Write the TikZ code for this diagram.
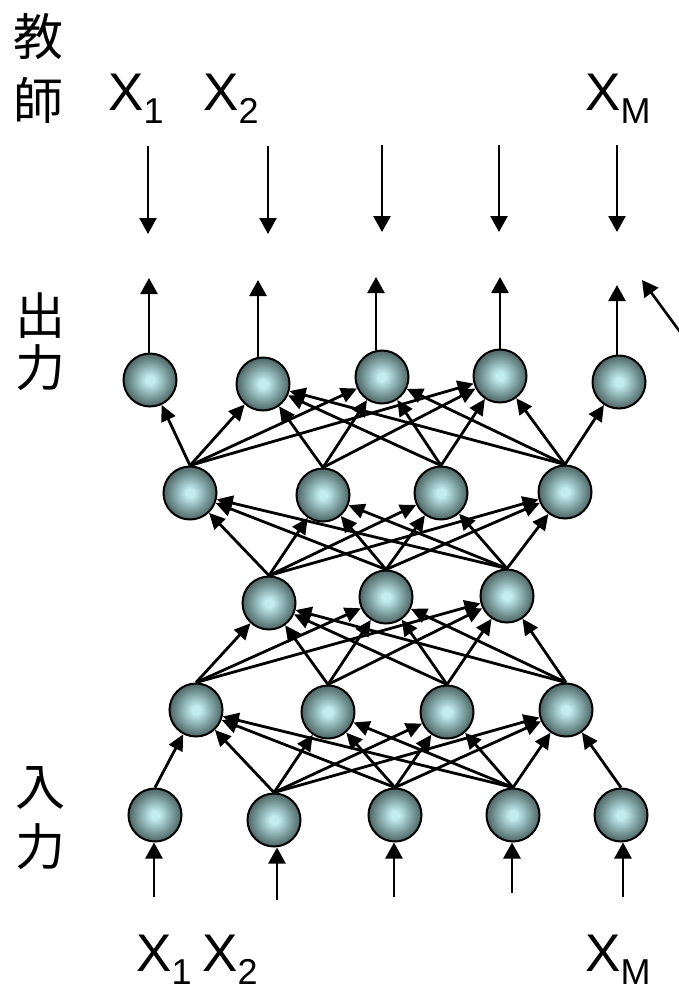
\documentclass[tikz,border=0pt]{standalone}
\usepackage{fontspec}
\setmainfont{Liberation Sans}
\newfontfamily\jpfont{Noto Sans CJK JP}
\usetikzlibrary{arrows.meta}
\definecolor{nin}{RGB}{194,236,238}
\definecolor{nmid}{RGB}{136,172,173}
\definecolor{nout}{RGB}{78,100,100}
\pgfdeclareradialshading{ballshade}{\pgfpoint{0bp}{0bp}}{color(0bp)=(nin); color(4bp)=(nin); color(14bp)=(nmid); color(25bp)=(nout); color(50bp)=(nout)}
\newcommand\Xsub[1]{X\raisebox{-13pt}{\fontsize{36}{40}\selectfont #1}}
\begin{document}
\begin{tikzpicture}[x=1pt,y=-1pt,
  neuron/.style={circle,draw=black,line width=2pt,minimum size=53pt,inner sep=0pt,shading=ballshade},
  conn/.style={line width=2.8pt,-{Triangle[length=16pt,width=15pt]}},
  io/.style={line width=2.6pt,-{Triangle[length=16pt,width=17pt]}},
  lbl/.style={inner sep=0pt,anchor=base west,font=\fontsize{53}{60}\selectfont},
  cjk/.style={inner sep=0pt,font=\jpfont\fontsize{50}{56}\selectfont}]
\useasboundingbox (0,0) rectangle (679,991);
\fill[white] (0,0) rectangle (679,991);

% nodes
\node[neuron] (o1) at (150,380) {};
\node[neuron] (o2) at (263,384) {};
\node[neuron] (o3) at (382,377) {};
\node[neuron] (o4) at (500,376) {};
\node[neuron] (o5) at (619,382) {};

\node[neuron] (ha) at (190,493) {};
\node[neuron] (hb) at (323,495) {};
\node[neuron] (hc) at (441,493) {};
\node[neuron] (hd) at (565,492) {};

\node[neuron] (ma) at (269,603) {};
\node[neuron] (mb) at (386,597) {};
\node[neuron] (mc) at (507,596) {};

\node[neuron] (ga) at (196,710) {};
\node[neuron] (gb) at (328,712) {};
\node[neuron] (gc) at (447,712) {};
\node[neuron] (gd) at (566,710) {};

\node[neuron] (i1) at (155,815) {};
\node[neuron] (i2) at (274,820) {};
\node[neuron] (i3) at (395,815) {};
\node[neuron] (i4) at (513,815) {};
\node[neuron] (i5) at (621,815) {};

% input -> lower hidden
\draw[conn] (i1.north) -- (ga);
\foreach \s in {i2,i3,i4}{
  \foreach \t in {ga,gb,gc,gd}{\draw[conn] (\s.north) -- (\t);}}
\draw[conn] (i5.north) -- (gd);

% lower hidden -> middle
\foreach \s in {ga,gb,gc,gd}{
  \foreach \t in {ma,mb,mc}{\draw[conn] (\s.north) -- (\t);}}

% middle -> upper hidden
\foreach \s in {ma,mb,mc}{
  \foreach \t in {ha,hb,hc,hd}{\draw[conn] (\s.north) -- (\t);}}

% upper hidden -> output
\foreach \t in {o1,o2,o3,o4}{\draw[conn] (ha.north) -- (\t);}
\foreach \t in {o2,o3,o4}{\draw[conn] (hb.north) -- (\t);}
\foreach \t in {o2,o3,o4}{\draw[conn] (hc.north) -- (\t);}
\foreach \t in {o2,o3,o4,o5}{\draw[conn] (hd.north) -- (\t);}

% output arrows up
\coordinate (u1) at (149,278);
\coordinate (u2) at (258,280);
\coordinate (u3) at (376,277);
\coordinate (u4) at (500,277);
\coordinate (u5) at (617,285);
\foreach \k in {1,...,5}{\draw[io] (u\k |- o\k.north) -- (u\k);}

% teacher arrows down
\coordinate (ds1) at (148,146); \coordinate (de1) at (148,234);
\coordinate (ds2) at (268,146); \coordinate (de2) at (268,234);
\coordinate (ds3) at (382,145); \coordinate (de3) at (382,232);
\coordinate (ds4) at (499,145); \coordinate (de4) at (499,232);
\coordinate (ds5) at (617,145); \coordinate (de5) at (617,232);
\foreach \k in {1,...,5}{\draw[io] (ds\k) -- (de\k);}

% diagonal arrow
\coordinate (diagS) at (683,336);
\coordinate (diagE) at (642,280);
\draw[io] (diagS) -- (diagE);

% input arrows up
\coordinate (b1) at (154,897);
\coordinate (b2) at (277,900);
\coordinate (b3) at (394,897);
\coordinate (b4) at (512,893);
\coordinate (b5) at (623,897);
\foreach \k in {1,...,5}{\draw[io] (b\k) -- (b\k |- i\k.south);}

% labels
\node[cjk] (t1) at (38,37) {教};
\node[cjk] (t2) at (38,100) {師};
\node[cjk] (c1) at (40,316) {出};
\node[cjk] (c2) at (40,368) {力};
\node[cjk] (n1) at (40,788) {入};
\node[cjk] (n2) at (40,847) {力};

\node[lbl] (tx1) at (108,110) {\Xsub{1}};
\node[lbl] (tx2) at (203,110) {\Xsub{2}};
\node[lbl] (txm) at (585,110) {\Xsub{M}};

\node[lbl] (bx1) at (136,971) {\Xsub{1}};
\node[lbl] (bx2) at (202,971) {\Xsub{2}};
\node[lbl] (bxm) at (585,971) {\Xsub{M}};
\end{tikzpicture}
\end{document}
